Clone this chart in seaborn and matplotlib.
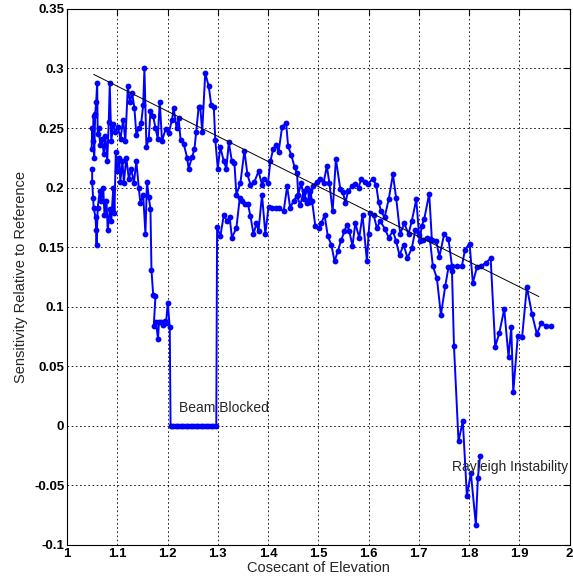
import numpy as np
import pandas as pd
import matplotlib
matplotlib.use("Agg")
from matplotlib import pyplot as plt
from matplotlib.ticker import FuncFormatter, MultipleLocator
import seaborn as sns

# upper trace (unblocked sweep)
upper_x = [1.049, 1.050, 1.052, 1.053, 1.054, 1.056, 1.058, 1.060, 1.061, 1.063, 1.066, 1.070,
           1.073, 1.0765, 1.080, 1.083, 1.085, 1.088, 1.092, 1.0964, 1.101, 1.1064, 1.1117, 1.116,
           1.121, 1.125, 1.1296, 1.134, 1.138, 1.1427, 1.1475, 1.1515, 1.154, 1.158, 1.1626, 1.166,
           1.1714, 1.176, 1.1805, 1.1845, 1.189, 1.196, 1.2024, 1.209, 1.212, 1.218, 1.222, 1.226,
           1.232, 1.239, 1.242, 1.249, 1.2535, 1.257, 1.262, 1.265, 1.269, 1.275, 1.282, 1.287,
           1.292, 1.295, 1.300, 1.305, 1.312, 1.317, 1.322, 1.328, 1.333, 1.337, 1.345, 1.353,
           1.359, 1.365, 1.373, 1.381, 1.388, 1.3926, 1.400, 1.4046, 1.410, 1.4165, 1.421, 1.428,
           1.436, 1.440, 1.446, 1.453, 1.4577, 1.460, 1.466, 1.472, 1.478, 1.483, 1.489, 1.497,
           1.504, 1.5105, 1.517, 1.522, 1.5285, 1.535, 1.5437, 1.549, 1.554, 1.559, 1.567, 1.5736,
           1.580, 1.5855, 1.592, 1.599, 1.608, 1.615, 1.620, 1.625, 1.632, 1.640, 1.6485, 1.655,
           1.663, 1.671, 1.6795, 1.686, 1.695, 1.7015, 1.706, 1.711, 1.7207, 1.726, 1.7346, 1.741,
           1.7505, 1.759, 1.766, 1.7757, 1.7857, 1.792, 1.801, 1.8075, 1.8155, 1.8235, 1.834, 1.843,
           1.852, 1.860, 1.870, 1.8785, 1.884, 1.888, 1.897, 1.9056, 1.915, 1.925, 1.935, 1.9433,
           1.953, 1.9626]
upper_y = [0.232, 0.250, 0.239, 0.260, 0.225, 0.262, 0.272, 0.288, 0.245, 0.250, 0.236, 0.241,
           0.228, 0.243, 0.222, 0.255, 0.2875, 0.239, 0.253, 0.247, 0.251, 0.241, 0.257, 0.239,
           0.285, 0.272, 0.279, 0.267, 0.244, 0.250, 0.254, 0.269, 0.300, 0.234, 0.241, 0.264,
           0.260, 0.250, 0.241, 0.272, 0.239, 0.249, 0.246, 0.257, 0.267, 0.250, 0.258, 0.240,
           0.237, 0.225, 0.216, 0.226, 0.232, 0.2465, 0.268, 0.268, 0.247, 0.296, 0.285, 0.269,
           0.268, 0.240, 0.216, 0.234, 0.222, 0.216, 0.238, 0.222, 0.221, 0.194, 0.204, 0.231,
           0.211, 0.2025, 0.205, 0.2136, 0.2025, 0.2075, 0.204, 0.222, 0.232, 0.236, 0.230, 0.251,
           0.254, 0.2345, 0.2276, 0.217, 0.212, 0.194, 0.204, 0.190, 0.200, 0.188, 0.201, 0.205,
           0.207, 0.204, 0.218, 0.204, 0.180, 0.224, 0.199, 0.196, 0.187, 0.197, 0.201, 0.203,
           0.200, 0.207, 0.205, 0.203, 0.2075, 0.2025, 0.188, 0.180, 0.175, 0.190, 0.211, 0.191,
           0.161, 0.170, 0.161, 0.172, 0.190, 0.155, 0.168, 0.174, 0.195, 0.156, 0.155, 0.142,
           0.161, 0.157, 0.134, 0.134, 0.134, 0.148, 0.153, 0.120, 0.133, 0.134, 0.137, 0.1406,
           0.0665, 0.0776, 0.098, 0.058, 0.0826, 0.0283, 0.0756, 0.0748, 0.1166, 0.0943, 0.077, 0.086,
           0.0841, 0.0836]

# lower trace (beam blocked + Rayleigh instability)
lower_x = [1.050, 1.050, 1.052, 1.053, 1.0567, 1.058, 1.0587, 1.061, 1.065, 1.068, 1.072, 1.0745,
           1.0785, 1.081, 1.085, 1.088, 1.092, 1.0944, 1.097, 1.0998, 1.104, 1.106, 1.1103, 1.113,
           1.118, 1.123, 1.1276, 1.133, 1.138, 1.1427, 1.146, 1.1515, 1.156, 1.159, 1.1626, 1.166,
           1.168, 1.1714, 1.176, 1.1726, 1.177, 1.181, 1.183, 1.186, 1.190, 1.194, 1.197, 1.2004,
           1.2044, 1.206, 1.211, 1.216, 1.221, 1.226, 1.231, 1.236, 1.241, 1.246, 1.251, 1.256,
           1.261, 1.266, 1.271, 1.276, 1.281, 1.286, 1.291, 1.297, 1.2986, 1.305, 1.312, 1.318,
           1.3237, 1.328, 1.337, 1.3436, 1.348, 1.355, 1.360, 1.365, 1.371, 1.377, 1.381, 1.388,
           1.3946, 1.401, 1.408, 1.4165, 1.421, 1.431, 1.438, 1.444, 1.451, 1.4577, 1.464, 1.4708,
           1.4775, 1.484, 1.4875, 1.494, 1.5006, 1.506, 1.5125, 1.519, 1.526, 1.5324, 1.539, 1.5457,
           1.552, 1.557, 1.5616, 1.568, 1.5736, 1.5815, 1.588, 1.5968, 1.600, 1.6034, 1.610, 1.6167,
           1.623, 1.633, 1.640, 1.6485, 1.655, 1.6616, 1.6696, 1.6775, 1.686, 1.693, 1.700, 1.708,
           1.716, 1.722, 1.728, 1.736, 1.744, 1.7525, 1.759, 1.766, 1.770, 1.779, 1.7876, 1.7957,
           1.8036, 1.8135, 1.8175, 1.822]
lower_y = [0.216, 0.205, 0.191, 0.183, 0.175, 0.164, 0.152, 0.183, 0.197, 0.189, 0.200, 0.177,
           0.189, 0.164, 0.182, 0.172, 0.200, 0.179, 0.230, 0.214, 0.225, 0.205, 0.222, 0.204,
           0.225, 0.207, 0.216, 0.204, 0.222, 0.200, 0.187, 0.194, 0.161, 0.205, 0.192, 0.182,
           0.131, 0.110, 0.109, 0.084, 0.087, 0.073, 0.087, 0.087, 0.085, 0.088, 0.086, 0.1035,
           0.0826, 0.0, 0.0, 0.0, 0.0, 0.0, 0.0, 0.0, 0.0, 0.0, 0.0, 0.0,
           0.0, 0.0, 0.0, 0.0, 0.0, 0.0, 0.0, 0.0, 0.167, 0.159, 0.177, 0.172,
           0.175, 0.158, 0.166, 0.191, 0.1885, 0.186, 0.186, 0.176, 0.161, 0.170, 0.1635, 0.194,
           0.161, 0.184, 0.183, 0.183, 0.183, 0.180, 0.201, 0.183, 0.189, 0.193, 0.185, 0.197,
           0.187, 0.197, 0.189, 0.168, 0.166, 0.170, 0.177, 0.159, 0.152, 0.138, 0.147, 0.156,
           0.1635, 0.169, 0.1635, 0.151, 0.170, 0.158, 0.177, 0.138, 0.161, 0.179, 0.177, 0.166,
           0.172, 0.165, 0.158, 0.1635, 0.155, 0.143, 0.152, 0.141, 0.149, 0.164, 0.160, 0.156,
           0.158, 0.157, 0.134, 0.124, 0.093, 0.117, 0.133, 0.130, 0.0667, -0.013, 0.004, -0.059,
           -0.0395, -0.083, -0.044, -0.025]

# linear trend drawn over the data
trend_x = [1.053, 1.939]
trend_y = [0.295, 0.1085]

sns.set_style("white")
plt.rcParams['font.family'] = ['Liberation Sans', 'DejaVu Sans']

fig = plt.figure(figsize=(5.73, 5.84), dpi=100)
ax = fig.add_axes([0.117, 0.0668, 0.877, 0.918])

for xs, ys in [(upper_x, upper_y), (lower_x, lower_y)]:
    df = pd.DataFrame({'x': xs, 'y': ys})
    sns.lineplot(data=df, x='x', y='y', sort=False, estimator=None, ax=ax,
                 color='#0000ff', linewidth=1.4, marker='o', markersize=4.2,
                 markeredgewidth=0)

ax.plot(trend_x, trend_y, color='black', linewidth=0.7)

ax.text(1.222, 0.0146, 'Beam Blocked', fontsize=10, va='center', ha='left')
ax.text(1.766, -0.0347, 'Rayleigh Instability', fontsize=10, va='center', ha='left')

ax.set_xlim(1, 2)
ax.set_ylim(-0.1, 0.35)
ax.xaxis.set_major_locator(MultipleLocator(0.1))
ax.yaxis.set_major_locator(MultipleLocator(0.05))
fmt = FuncFormatter(lambda v, p: '%g' % round(v, 3))
ax.xaxis.set_major_formatter(fmt)
ax.yaxis.set_major_formatter(fmt)

ax.grid(True, color='black', linestyle=(0, (2, 3)), linewidth=0.6)
ax.tick_params(direction='in', length=4, width=0.8, top=True, right=True,
               labelsize=9.5, colors='black', pad=2)
for lab in ax.get_xticklabels() + ax.get_yticklabels():
    lab.set_fontweight('bold')
for s in ax.spines.values():
    s.set_color('black')
    s.set_linewidth(0.8)

ax.set_xlabel('Cosecant of Elevation', fontsize=10.5, labelpad=1)
ax.set_ylabel('Sensitivity Relative to Reference', fontsize=10.5, labelpad=4)

plt.savefig('out.png', dpi=100)
